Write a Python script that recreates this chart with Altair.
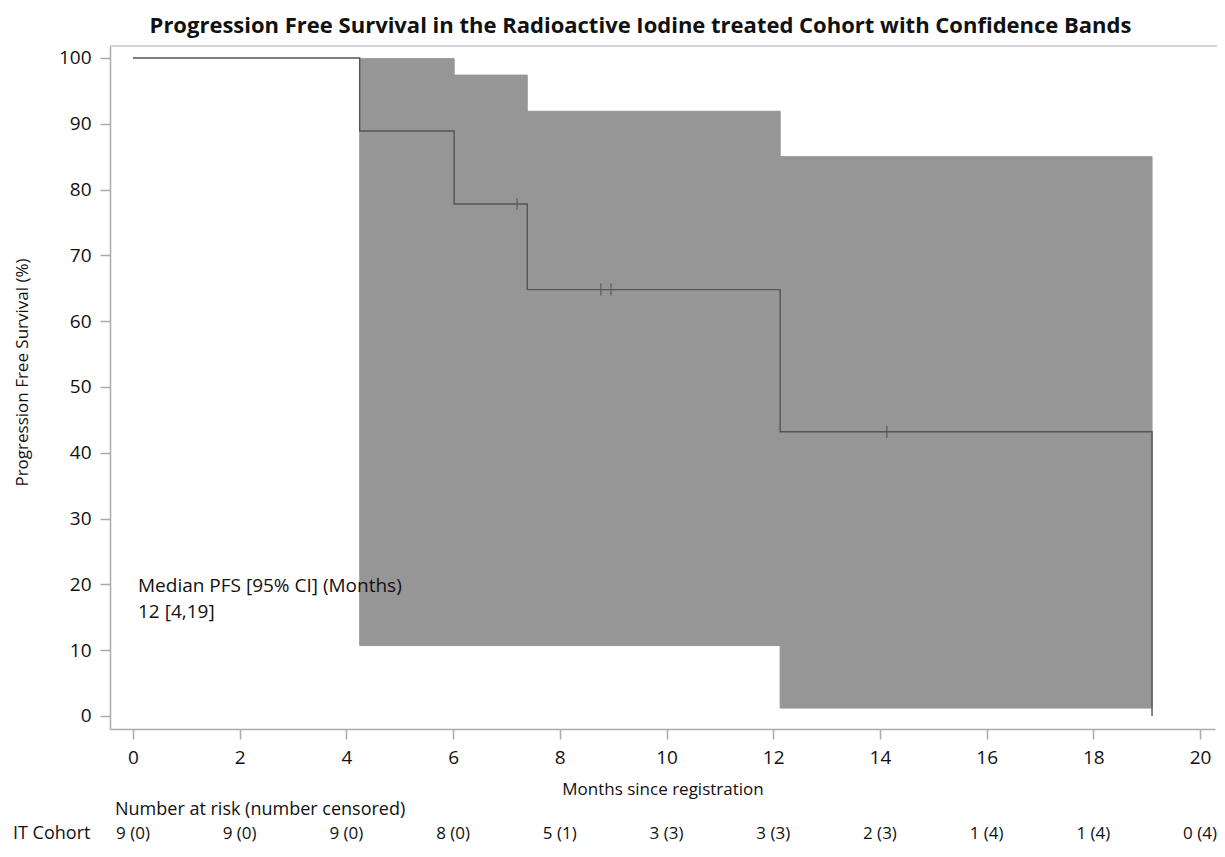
import altair as alt
import pandas as pd

# ---------------- data ----------------
chart_title = "Progression Free Survival in the Radioactive Iodine treated Cohort with Confidence Bands"

km_time = [0, 4.25, 6.02, 7.39, 12.13, 19.1]
km_surv = [100, 88.9, 77.8, 64.8, 43.2, 0]

cens_time = [7.2, 8.77, 8.96, 14.13]
cens_surv = [77.8, 64.8, 64.8, 43.2]

band_start = [4.25, 6.02, 7.39, 12.13]
band_end = [6.02, 7.39, 12.13, 19.1]
band_lower = [10.7, 10.7, 10.7, 1.2]
band_upper = [99.9, 97.4, 91.9, 85.0]

risk_time = [0, 2, 4, 6, 8, 10, 12, 14, 16, 18, 20]
risk_text = ["9 (0)", "9 (0)", "9 (0)", "8 (0)", "5 (1)", "3 (3)",
             "3 (3)", "2 (3)", "1 (4)", "1 (4)", "0 (4)"]

x_ticks = [0, 2, 4, 6, 8, 10, 12, 14, 16, 18, 20]
y_ticks = [0, 10, 20, 30, 40, 50, 60, 70, 80, 90, 100]

median_text = "Median PFS [95% CI] (Months)\n12 [4,19]"
risk_header = "Number at risk (number censored)"
group_label = "IT Cohort"

# ---------------- layout ----------------
W, H = 1105, 683
PAD_L, PAD_R, PAD_T, PAD_B = 102, 2, 38, 115
FONT = "Open Sans"
AXIS_GRAY = "#ababab"
LINE_COLOR = "#555555"
BAND_COLOR = "#969696"
TXT = "#111111"

km_df = pd.DataFrame({"time": km_time, "surv": km_surv})
cens_df = pd.DataFrame({"time": cens_time, "surv": cens_surv})
band_df = pd.DataFrame({"start": band_start, "end": band_end,
                        "lower": band_lower, "upper": band_upper})
risk_df = pd.DataFrame({"time": risk_time, "label": risk_text})
one = pd.DataFrame({"k": [0]})

xscale = alt.Scale(domain=[-0.43, 20.28], nice=False, zero=False)
yscale = alt.Scale(domain=[-1.98, 101.82], nice=False, zero=False)

xaxis = alt.Axis(values=x_ticks, grid=False, title="Months since registration",
                 titleFont=FONT, titleFontSize=17, titleFontWeight="normal",
                 titleColor=TXT, titlePadding=14,
                 labelFont=FONT, labelFontSize=19, labelColor=TXT,
                 labelPadding=9, tickSize=10, tickColor=AXIS_GRAY, tickWidth=1.5,
                 domainColor=AXIS_GRAY, domainWidth=1.5, labelFlush=False)
yaxis = alt.Axis(values=y_ticks, grid=False, title="Progression Free Survival (%)",
                 titleFont=FONT, titleFontSize=17, titleFontWeight="normal",
                 titleColor=TXT, titleX=-88, titleY=326, titleAngle=270,
                 titleAlign="center", titleBaseline="middle",
                 labelFont=FONT, labelFontSize=19, labelColor=TXT,
                 labelPadding=9, tickSize=10, tickColor=AXIS_GRAY, tickWidth=1.5,
                 domainColor=AXIS_GRAY, domainWidth=1.5, labelFlush=False)


def X(field):
    return alt.X(field, type="quantitative", scale=xscale, axis=xaxis)


def Y(field):
    return alt.Y(field, type="quantitative", scale=yscale, axis=yaxis)


bands = alt.Chart(band_df).mark_rect(
    color=BAND_COLOR, opacity=1, stroke=BAND_COLOR, strokeWidth=1
).encode(x=X("start"), x2="end", y=Y("lower"), y2="upper")

km_line = alt.Chart(km_df).mark_line(
    interpolate="step-after", color=LINE_COLOR, strokeWidth=1.4
).encode(x=X("time"), y=Y("surv"))

cens = alt.Chart(cens_df).mark_tick(
    orient="vertical", size=12, thickness=1.5, color=LINE_COLOR
).encode(x=X("time"), y=Y("surv"))

top_rule = alt.Chart(one).mark_rule(color="#c4c4c4", strokeWidth=1.5).encode(
    x=alt.value(0), x2=alt.value(W + PAD_R), y=alt.value(0)
)

median = alt.Chart(one).mark_text(
    align="left", baseline="middle", font=FONT, fontSize=19, color=TXT,
    lineBreak="\n", lineHeight=26
).encode(x=alt.value(28), y=alt.value(540), text=alt.value(median_text))

risk = alt.Chart(risk_df).mark_text(
    align="center", baseline="middle", font=FONT, fontSize=17, color=TXT
).encode(x=X("time"), y=alt.value(788), text="label:N")

header = alt.Chart(one).mark_text(
    align="left", baseline="middle", font=FONT, fontSize=18, color=TXT
).encode(x=alt.value(5), y=alt.value(764), text=alt.value(risk_header))

group = alt.Chart(one).mark_text(
    align="left", baseline="middle", font=FONT, fontSize=18, color=TXT
).encode(x=alt.value(-97), y=alt.value(788), text=alt.value(group_label))

chart = alt.layer(bands, km_line, cens, top_rule, median, risk, header, group).properties(
    width=W, height=H,
    title=alt.TitleParams(chart_title, font=FONT, fontSize=22, fontWeight="bold",
                          color=TXT, anchor="middle", dx=-22, offset=7),
    autosize=alt.AutoSizeParams(type="none"),
    padding={"left": PAD_L, "top": PAD_T, "right": PAD_R, "bottom": PAD_B},
).configure_view(stroke=None)

chart.save("out.html", embed_options={"renderer": "svg", "actions": False})
